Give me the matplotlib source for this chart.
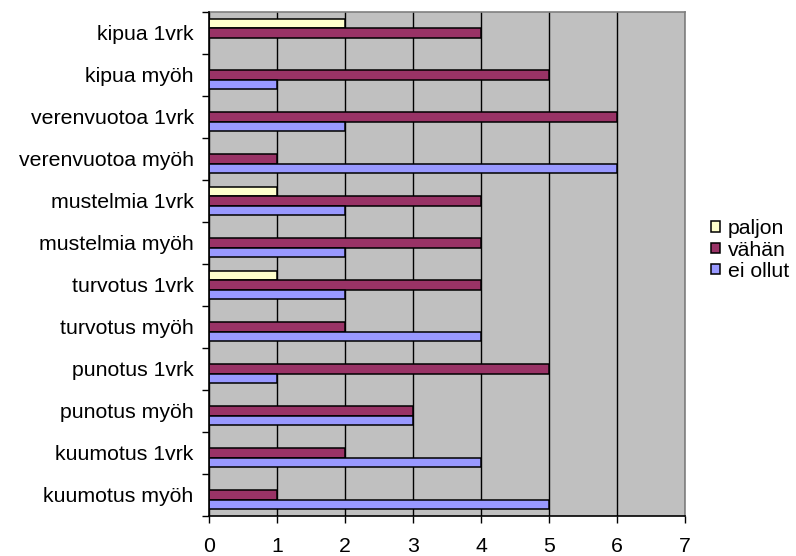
import matplotlib
matplotlib.use("Agg")
import matplotlib.pyplot as plt
import numpy as np

plt.rcParams['font.family'] = ['Liberation Sans', 'DejaVu Sans']

categories = [
    "kipua 1vrk", "kipua myöh",
    "verenvuotoa 1vrk", "verenvuotoa myöh",
    "mustelmia 1vrk", "mustelmia myöh",
    "turvotus 1vrk", "turvotus myöh",
    "punotus 1vrk", "punotus myöh",
    "kuumotus 1vrk", "kuumotus myöh",
]
paljon = [2, 0, 0, 0, 1, 0, 1, 0, 0, 0, 0, 0]
vahan = [4, 5, 6, 1, 4, 4, 4, 2, 5, 3, 2, 1]
ei_ollut = [0, 1, 2, 6, 2, 2, 2, 4, 1, 3, 4, 5]
series_names = ["paljon", "vähän", "ei ollut"]
colors = ["#FFFFCC", "#993366", "#9999FF"]
x_ticks = [0, 1, 2, 3, 4, 5, 6, 7]

FS = 15.3

fig = plt.figure(figsize=(7.96, 5.56), dpi=100)
ax = fig.add_axes([209 / 796, 40 / 556, 476 / 796, 504 / 556])
ax.set_facecolor("#C0C0C0")

# three bars per category, Excel-style 150% gap between groups
y = np.arange(len(categories))
h = 1 / 4.5
for k, (vals, name, col) in enumerate(zip([paljon, vahan, ei_ollut], series_names, colors)):
    ax.barh(y + (k - 1) * h, vals, height=h, color=col, edgecolor="black",
            linewidth=1.1, label=name, zorder=3)

ax.set_xlim(0, 7)
ax.set_ylim(len(categories) - 0.5, -0.5)
ax.set_xticks(x_ticks)
ax.set_xticklabels([str(t) for t in x_ticks], fontsize=FS)
ax.set_yticks(y)
ax.set_yticklabels(categories, fontsize=FS)
ax.set_yticks(np.arange(len(categories) + 1) - 0.5, minor=True)
ax.tick_params(axis="y", which="major", length=0, pad=11)
ax.tick_params(axis="y", which="minor", length=5, width=1, direction="out")
ax.tick_params(axis="x", length=5, width=1, direction="out", pad=10)
ax.grid(axis="x", color="black", linewidth=1, zorder=1)
ax.set_axisbelow(True)

for s in ["left", "bottom"]:
    ax.spines[s].set_color("black")
    ax.spines[s].set_linewidth(1.2)
    ax.spines[s].set_zorder(4)
for s in ["top", "right"]:
    ax.spines[s].set_color("#808080")
    ax.spines[s].set_linewidth(1.2)

leg = fig.legend(loc="center left", bbox_to_anchor=(711 / 796, 1 - 250 / 556),
                 frameon=False, fontsize=FS, handlelength=0.4, handleheight=0.4,
                 handletextpad=0.4, labelspacing=0.1, borderaxespad=0,
                 borderpad=0)

fig.savefig("out.png", dpi=100)
